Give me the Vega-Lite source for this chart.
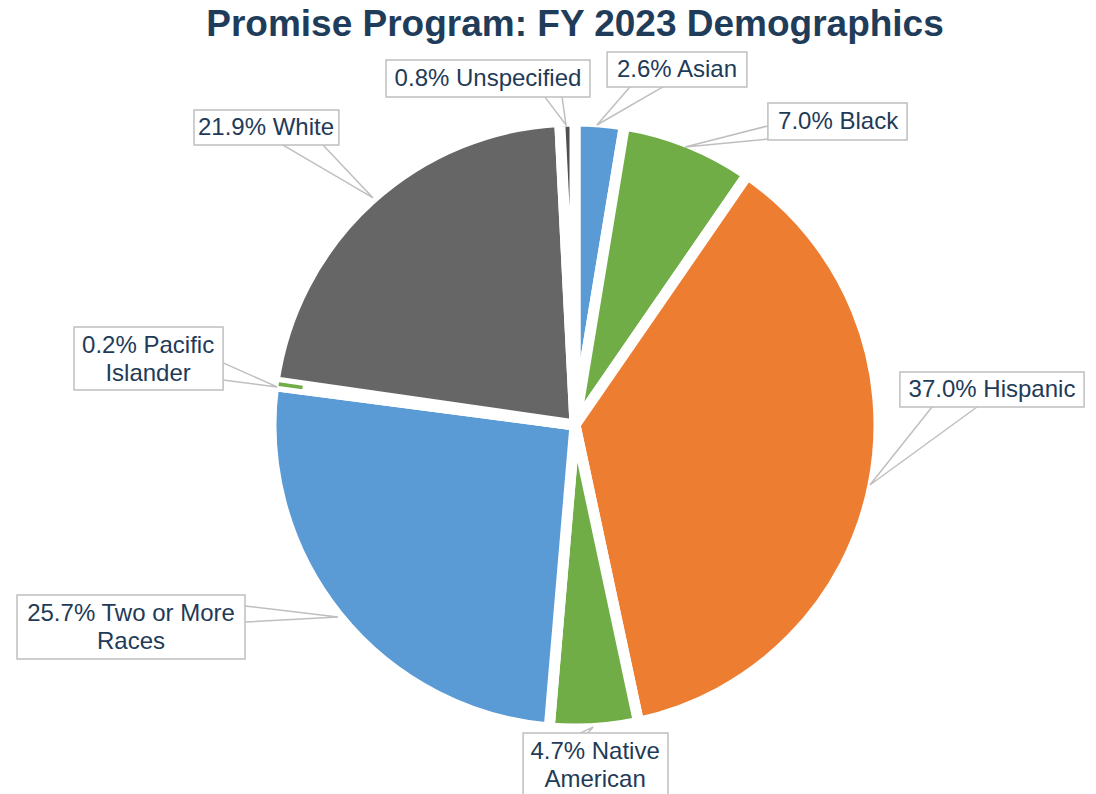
{
  "$schema": "https://vega.github.io/schema/vega-lite/v6.json",
  "autosize": {"type": "none"},
  "width": 1042,
  "height": 738,
  "padding": {"left": 54, "top": 56, "right": 0, "bottom": 0},
  "background": "white",
  "view": {"stroke": null},
  "title": {
    "text": "Promise Program: FY 2023 Demographics",
    "font": "Liberation Sans",
    "fontSize": 37,
    "fontWeight": "bold",
    "color": "#1F3D5A",
    "anchor": "middle",
    "frame": "group",
    "baseline": "alphabetic",
    "offset": 19,
    "dy": 41
  },
  "datasets": {
    "slices": [
      {"category": "Asian", "pct": 2.6, "order": 1},
      {"category": "Black", "pct": 7.0, "order": 2},
      {"category": "Hispanic", "pct": 37.0, "order": 3},
      {"category": "Native American", "pct": 4.7, "order": 4},
      {"category": "Two or More Races", "pct": 25.7, "order": 5},
      {"category": "Pacific Islander", "pct": 0.2, "order": 6},
      {"category": "White", "pct": 21.9, "order": 7},
      {"category": "Unspecified", "pct": 0.8, "order": 8}
    ],
    "labels": [
      {"category": "Unspecified", "label": "0.8% Unspecified", "lx": -0.29, "ly": 1.153, "bx1": -0.63, "bx2": 0.05, "by1": 1.093, "by2": 1.217},
      {"category": "Asian", "label": "2.6% Asian", "lx": 0.34, "ly": 1.183, "bx1": 0.107, "bx2": 0.573, "by1": 1.127, "by2": 1.243},
      {"category": "Black", "label": "7.0% Black", "lx": 0.877, "ly": 1.01, "bx1": 0.643, "bx2": 1.107, "by1": 0.95, "by2": 1.073},
      {"category": "Hispanic", "label": "37.0% Hispanic", "lx": 1.39, "ly": 0.117, "bx1": 1.083, "bx2": 1.697, "by1": 0.06, "by2": 0.177},
      {"category": "Native American", "label": "4.7% Native\nAmerican", "lx": 0.067, "ly": -1.09, "bx1": -0.173, "bx2": 0.31, "by1": -1.25, "by2": -1.027},
      {"category": "Two or More Races", "label": "25.7% Two or More\nRaces", "lx": -1.48, "ly": -0.63, "bx1": -1.86, "bx2": -1.1, "by1": -0.78, "by2": -0.567},
      {"category": "Pacific Islander", "label": "0.2% Pacific\nIslander", "lx": -1.423, "ly": 0.263, "bx1": -1.67, "bx2": -1.173, "by1": 0.117, "by2": 0.327},
      {"category": "White", "label": "21.9% White", "lx": -1.03, "ly": 0.99, "bx1": -1.27, "bx2": -0.787, "by1": 0.933, "by2": 1.05}
    ],
    "leaders": [
      {"category": "Unspecified", "seq": 1, "px": -0.1, "py": 1.093},
      {"category": "Unspecified", "seq": 2, "px": -0.03, "py": 1.0},
      {"category": "Unspecified", "seq": 3, "px": -0.043, "py": 1.093},
      {"category": "Asian", "seq": 1, "px": 0.183, "py": 1.127},
      {"category": "Asian", "seq": 2, "px": 0.073, "py": 1.0},
      {"category": "Asian", "seq": 3, "px": 0.293, "py": 1.127},
      {"category": "Black", "seq": 1, "px": 0.643, "py": 0.997},
      {"category": "Black", "seq": 2, "px": 0.367, "py": 0.927},
      {"category": "Black", "seq": 3, "px": 0.643, "py": 0.953},
      {"category": "Hispanic", "seq": 1, "px": 1.19, "py": 0.06},
      {"category": "Hispanic", "seq": 2, "px": 0.983, "py": -0.2},
      {"category": "Hispanic", "seq": 3, "px": 1.34, "py": 0.06},
      {"category": "Native American", "seq": 1, "px": 0.017, "py": -1.027},
      {"category": "Native American", "seq": 2, "px": 0.06, "py": -1.007},
      {"category": "Native American", "seq": 3, "px": 0.043, "py": -1.027},
      {"category": "Two or More Races", "seq": 1, "px": -1.1, "py": -0.603},
      {"category": "Two or More Races", "seq": 2, "px": -0.79, "py": -0.64},
      {"category": "Two or More Races", "seq": 3, "px": -1.1, "py": -0.657},
      {"category": "Pacific Islander", "seq": 1, "px": -1.173, "py": 0.207},
      {"category": "Pacific Islander", "seq": 2, "px": -0.993, "py": 0.127},
      {"category": "Pacific Islander", "seq": 3, "px": -1.173, "py": 0.15},
      {"category": "White", "seq": 1, "px": -0.973, "py": 0.933},
      {"category": "White", "seq": 2, "px": -0.673, "py": 0.757},
      {"category": "White", "seq": 3, "px": -0.84, "py": 0.933}
    ]
  },
  "layer": [
    {
      "data": {"name": "slices"},
      "mark": {"type": "arc", "outerRadius": 304, "stroke": "white", "strokeWidth": 11, "strokeJoin": "miter"},
      "encoding": {
        "theta": {"field": "pct", "type": "quantitative", "stack": true},
        "order": {"field": "order", "type": "quantitative"},
        "color": {
          "field": "category", "type": "nominal", "legend": null,
          "scale": {
            "domain": ["Asian", "Black", "Hispanic", "Native American", "Two or More Races", "Pacific Islander", "White", "Unspecified"],
            "range": ["#5B9BD5", "#70AD47", "#ED7D31", "#70AD47", "#5B9BD5", "#70AD47", "#666666", "#4F4F4F"]
          }
        }
      }
    },
    {
      "data": {"name": "slices"},
      "mark": {"type": "arc", "innerRadius": 275, "outerRadius": 299, "strokeWidth": 0},
      "encoding": {
        "theta": {"field": "pct", "type": "quantitative", "stack": true},
        "order": {"field": "order", "type": "quantitative"},
        "color": {"field": "category", "type": "nominal", "legend": null},
        "opacity": {"condition": {"test": "datum.category === 'Pacific Islander'", "value": 1}, "value": 0}
      }
    },
    {
      "data": {"name": "leaders"},
      "mark": {"type": "line", "color": "#BFBFBF", "strokeWidth": 1.5},
      "encoding": {
        "x": {"field": "px", "type": "quantitative", "axis": null, "scale": {"domain": [-1.73667, 1.73667], "nice": false, "zero": false}},
        "y": {"field": "py", "type": "quantitative", "axis": null, "scale": {"domain": [-1.23, 1.23], "nice": false, "zero": false}},
        "detail": {"field": "category", "type": "nominal"},
        "order": {"field": "seq", "type": "quantitative"}
      }
    },
    {
      "data": {"name": "labels"},
      "mark": {"type": "rect", "fill": "white", "stroke": "#BFBFBF", "strokeWidth": 1.5},
      "encoding": {
        "x": {"field": "bx1", "type": "quantitative", "axis": null, "scale": {"domain": [-1.73667, 1.73667], "nice": false, "zero": false}},
        "x2": {"field": "bx2"},
        "y": {"field": "by1", "type": "quantitative", "axis": null, "scale": {"domain": [-1.23, 1.23], "nice": false, "zero": false}},
        "y2": {"field": "by2"}
      }
    },
    {
      "data": {"name": "labels"},
      "mark": {"type": "text", "font": "Liberation Sans", "fontSize": 24, "color": "#1F3B57", "align": "center", "baseline": "middle", "lineBreak": "\n", "lineHeight": 28},
      "encoding": {
        "x": {"field": "lx", "type": "quantitative", "axis": null, "scale": {"domain": [-1.73667, 1.73667], "nice": false, "zero": false}},
        "y": {"field": "ly", "type": "quantitative", "axis": null, "scale": {"domain": [-1.23, 1.23], "nice": false, "zero": false}},
        "text": {"field": "label", "type": "nominal"}
      }
    }
  ]
}
